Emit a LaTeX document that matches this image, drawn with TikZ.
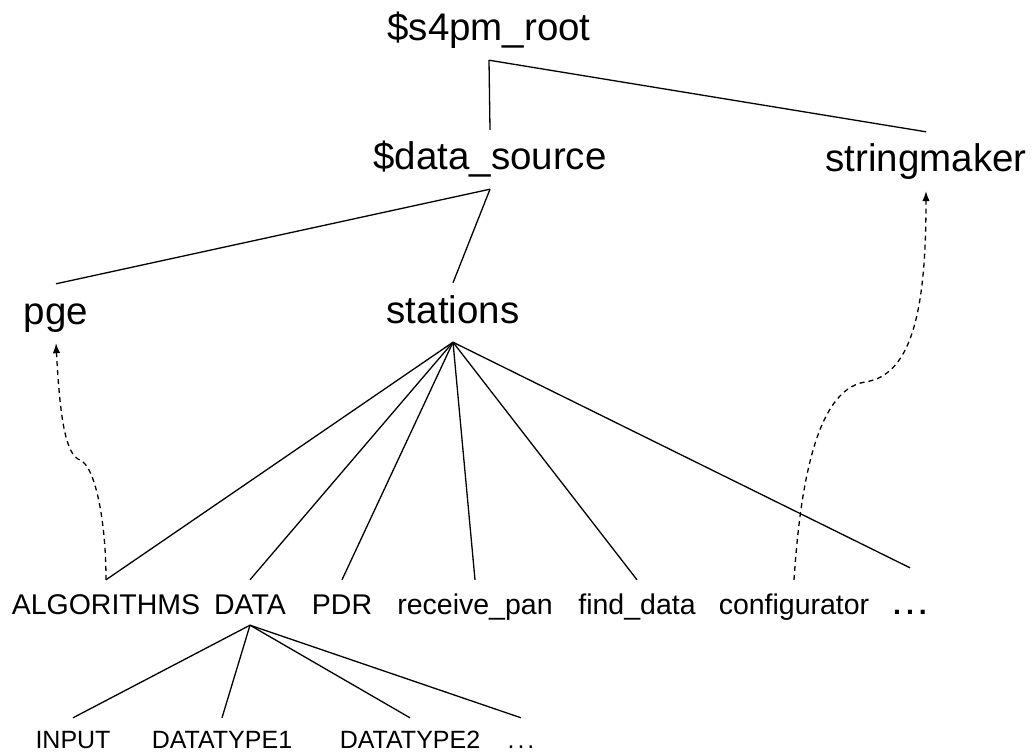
\documentclass[tikz,border=0pt]{standalone}
\usepackage{fontspec}
\setmainfont{Liberation Sans}
\usetikzlibrary{arrows.meta}

\begin{document}
\begin{tikzpicture}[x = 1pt, y = -1pt,
        big/.style = {font = \fontsize{38.5}{40}\selectfont, anchor = base, inner sep = 0pt, text height = 40pt, text depth = 19pt},
        mid/.style = {font = \fontsize{28.5}{30}\selectfont, anchor = base, inner sep = 0pt, text height = 34pt, text depth = 11pt},
        small/.style = {font = \fontsize{25}{26}\selectfont, anchor = base, inner sep = 0pt, text height = 30pt, text depth = 8pt},
        link/.style = {line width = 1.3pt},
        ref/.style = {line width = 1.3pt, dash pattern = on 5pt off 4pt, -{Latex[length = 10pt, width = 7.5pt]}}]
        \useasboundingbox (0, 0) rectangle (1033, 754);

        \node[big] (root)     at (489, 41)  {\$s4pm\_root};
        \node[big] (source)   at (490, 170) {\$data\_source};
        \node[big] (maker)    at (926, 172) {stringmaker};
        \node[big] (pge)      at (56, 324)  {pge};
        \node[big] (stations) at (453, 323) {stations};

        \node[mid] (algorithms) at (106, 614) {ALGORITHMS};
        \node[mid] (data)       at (250, 614) {DATA};
        \node[mid] (pdr)        at (342, 614) {PDR};
        \node[mid] (receive)    at (475, 614) {receive\_pan};
        \node[mid] (find)       at (637, 614) {find\_data};
        \node[mid] (config)     at (794, 614) {configurator};
        \node[mid, text height = 46pt] (more) at (910, 614) {\bfseries .\kern5pt.\kern5pt.};

        \node[small] (input) at (73, 748)  {INPUT};
        \node[small] (type1) at (222, 748) {DATATYPE1};
        \node[small] (type2) at (410, 748) {DATATYPE2};
        \node[small] (etc)   at (521, 748) {.\kern3pt.\kern3pt.};

        \draw[link] (root.south) -- (source.north);
        \draw[link] (root.south) -- (maker.north);
        \draw[link] (source.south) -- (pge.north);
        \draw[link] (source.south) -- (stations.north);
        \foreach \child in {algorithms, data, pdr, receive, find, more}
            \draw[link] (stations.south) -- (\child.north);
        \foreach \leaf in {input, type1, type2, etc}
            \draw[link] (data.south) -- (\leaf.north);

        \draw[ref] (algorithms.north) .. controls (106, 520) and (95, 466) .. (80, 460)
                   .. controls (66, 455) and (60, 420) .. (pge.south);
        \draw[ref] (config.north) .. controls (800, 490) and (815, 390) .. (865, 382)
                   .. controls (915, 375) and (926, 300) .. (maker.south);
    \end{tikzpicture}
\end{document}
